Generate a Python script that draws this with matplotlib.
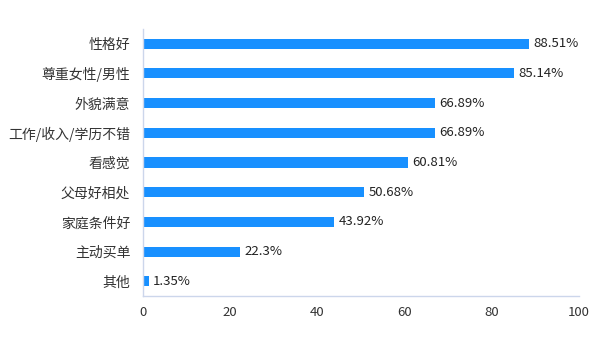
import matplotlib
matplotlib.use("Agg")
import matplotlib.pyplot as plt

plt.rcParams['font.family'] = ['Noto Sans CJK SC', 'DejaVu Sans']

categories = ["性格好", "尊重女性/男性", "外貌满意", "工作/收入/学历不错", "看感觉",
              "父母好相处", "家庭条件好", "主动买单", "其他"]
values = [88.51, 85.14, 66.89, 66.89, 60.81, 50.68, 43.92, 22.3, 1.35]
value_labels = ["88.51%", "85.14%", "66.89%", "66.89%", "60.81%", "50.68%", "43.92%", "22.3%", "1.35%"]
xticks = [0, 20, 40, 60, 80, 100]

fig = plt.figure(figsize=(6, 3.4), dpi=100)
ax = fig.add_axes([0.238, 0.129, 0.727, 0.786])

y = list(range(len(categories)))
ax.barh(y, values, height=0.34, color='#1890ff')
for yi, v, lab in zip(y, values, value_labels):
    ax.text(v + 1, yi, lab, va='center', ha='left', fontsize=9.5, color='#222222')

ax.set_ylim(len(categories) - 0.5, -0.5)
ax.set_xlim(0, 100)
ax.set_yticks(y)
ax.set_yticklabels(categories, fontsize=10, color='#333333')
ax.set_xticks(xticks)
ax.set_xticklabels([str(t) for t in xticks], fontsize=9.5, color='#333333')
ax.tick_params(axis='both', length=0)
ax.tick_params(axis='y', pad=9)
ax.tick_params(axis='x', pad=7)
for s in ['top', 'right']:
    ax.spines[s].set_visible(False)
for s in ['left', 'bottom']:
    ax.spines[s].set_color('#ccd6eb')
    ax.spines[s].set_linewidth(1)

fig.savefig("out.png", dpi=100)
